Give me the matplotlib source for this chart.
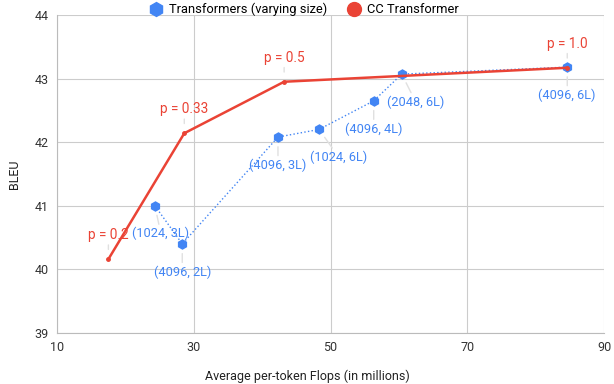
import matplotlib.pyplot as plt
from matplotlib.lines import Line2D

plt.rcParams['font.family'] = ['Roboto', 'DejaVu Sans']

# CC Transformer
cc_flops = [17.5, 28.6, 43.2, 84.6]
cc_bleu = [40.16, 42.14, 42.95, 43.17]
cc_labels = ['p = 0.2', 'p = 0.33', 'p = 0.5', 'p = 1.0']

# Transformers of varying size
tf_flops = [24.3, 28.3, 42.3, 48.3, 56.3, 60.4, 84.6]
tf_bleu = [41.0, 40.4, 42.08, 42.2, 42.65, 43.07, 43.18]
tf_labels = ['(1024, 3L)', '(4096, 2L)', '(4096, 3L)', '(1024, 6L)',
             '(4096, 4L)', '(2048, 6L)', '(4096, 6L)']
# horizontal nudges for labels (pixels)
tf_dx = [6, 0, 0, 20, 0, 14, 0]

blue = '#4285F4'
red = '#EA4335'

fig = plt.figure(figsize=(6.14, 3.84), dpi=100)
ax = fig.add_axes([0.093, 0.133, 0.891, 0.828])

ax.plot(tf_flops, tf_bleu, ':', color=blue, lw=1.0, marker='h', ms=6.5,
        label='Transformers (varying size)', zorder=3)
ax.plot(cc_flops, cc_bleu, '-', color=red, lw=1.8, marker='o', ms=2.5,
        label='CC Transformer', zorder=4)

for x, y, t in zip(cc_flops, cc_bleu, cc_labels):
    ax.annotate(t, (x, y), xytext=(0, 24), textcoords='offset pixels',
                ha='center', va='center', color=red, fontsize=9.8,
                arrowprops=dict(arrowstyle='-', color='#e0e0e0', lw=1,
                                shrinkA=0, shrinkB=7))

for x, y, t, dx in zip(tf_flops, tf_bleu, tf_labels, tf_dx):
    ax.annotate(t, (x, y), xytext=(dx, -28), textcoords='offset pixels',
                ha='center', va='center', color=blue, fontsize=9.2,
                arrowprops=dict(arrowstyle='-', color='#e0e0e0', lw=1,
                                shrinkA=0, shrinkB=7))

ax.set_xlim(10, 90)
ax.set_ylim(39, 44)
ax.set_xticks([10, 30, 50, 70, 90])
ax.set_yticks([39, 40, 41, 42, 43, 44])
ax.grid(True, color='#cccccc', lw=0.8)
ax.set_axisbelow(True)
for s in ['top', 'right']:
    ax.spines[s].set_visible(False)
for s in ['left', 'bottom']:
    ax.spines[s].set_color('#bbbbbb')
ax.tick_params(length=0, labelsize=9, colors='#333333', pad=6)
fig.text(0.5, 0.02, 'Average per-token Flops (in millions)', fontsize=9,
         color='#222222', ha='center', va='center')
ax.set_ylabel('BLEU', fontsize=9, color='#222222', labelpad=10)

labels = ['Transformers (varying size)', 'CC Transformer']
h = [Line2D([], [], ls='', marker='h', ms=10, color=blue),
     Line2D([], [], ls='', marker='o', ms=10, color=red)]
fig.legend(h, labels, loc='upper center', bbox_to_anchor=(0.495, 1.02), ncol=2,
           frameon=False, fontsize=9.3, handlelength=1.0, handletextpad=0.5,
           columnspacing=1.6, borderpad=0.3)

fig.savefig('out.png', dpi=100)
